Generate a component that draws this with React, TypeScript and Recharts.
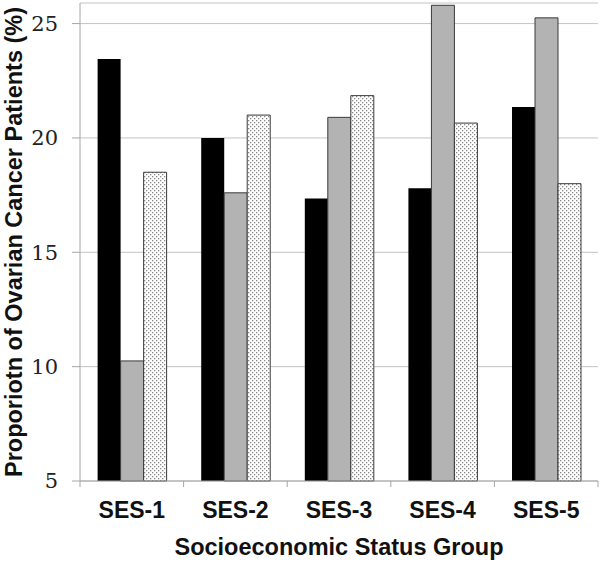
import React from 'react'
import { BarChart, Bar, XAxis, YAxis, CartesianGrid, Label } from 'recharts'

const categories = ['SES-1', 'SES-2', 'SES-3', 'SES-4', 'SES-5']
const blackSeries = [23.45, 20.0, 17.35, 17.8, 21.35]
const graySeries = [10.25, 17.6, 20.9, 25.8, 25.25]
const dottedSeries = [18.5, 21.0, 21.85, 20.65, 18.0]
const yTicks = [5, 10, 15, 20, 25]

const data = categories.map((name, i) => ({
  name,
  black: blackSeries[i],
  gray: graySeries[i],
  dotted: dottedSeries[i],
}))

const AXIS = '#a6a6a6'

// category ticks sit on the boundaries between groups, like the original
const XTick = (props: any) => {
  const { x, y, payload, index, visibleTicksCount } = props
  const half = payload?.offset ?? 0
  const top = y - 6
  return (
    <g>
      <line x1={x - half} y1={top} x2={x - half} y2={y} stroke={AXIS} />
      {index === visibleTicksCount - 1 && (
        <line x1={x + half} y1={top} x2={x + half} y2={y} stroke={AXIS} />
      )}
      <text
        x={x}
        y={y + 31}
        textAnchor="middle"
        fontFamily="Liberation Sans, Arial, sans-serif"
        fontWeight="bold"
        fontSize={23}
        fill="#111"
      >
        {payload.value}
      </text>
    </g>
  )
}

export default function App() {
  return (
    <div style={{ position: 'absolute', left: 0, top: 0, background: '#fff' }}>
      <BarChart
        width={600}
        height={562}
        data={data}
        margin={{ top: 3, right: 2, left: 0, bottom: 0 }}
        barCategoryGap="17%"
        barGap={0}
      >
        <defs>
          <pattern id="dots" width="4" height="4" patternUnits="userSpaceOnUse">
            <rect width="4" height="4" fill="#fff" />
            <rect x="0" y="0" width="1.3" height="1.3" fill="#8a8a8a" />
            <rect x="2" y="2" width="1.3" height="1.3" fill="#8a8a8a" />
          </pattern>
        </defs>
        <CartesianGrid vertical={false} stroke="#c4c4c4" />
        <XAxis
          dataKey="name"
          height={81}
          axisLine={{ stroke: AXIS }}
          tickLine={false}
          tickSize={6}
          tickMargin={0}
          tick={<XTick />}
          interval={0}
        >
          <Label
            value="Socioeconomic Status Group"
            position="center"
            dy={25}
            style={{
              fontFamily: 'Liberation Sans, Arial, sans-serif',
              fontWeight: 'bold',
              fontSize: 23.5,
              fill: '#111',
            }}
          />
        </XAxis>
        <YAxis
          width={80}
          domain={[5, 25.9]}
          ticks={yTicks}
          interval={0}
          axisLine={{ stroke: AXIS }}
          tickLine={{ stroke: AXIS }}
          tickSize={8}
          tickMargin={14}
          tick={{
            fontFamily: 'DejaVu Serif, serif',
            fontSize: 21,
            fill: '#222',
          }}
        >
          <Label
            value="Proporiotn of Ovarian Cancer Patients (%)"
            angle={-90}
            position="center"
            dx={-26}
            style={{
              fontFamily: 'Liberation Sans, Arial, sans-serif',
              fontWeight: 'bold',
              fontSize: 23.5,
              fill: '#111',
              textAnchor: 'middle',
            }}
          />
        </YAxis>
        <Bar dataKey="black" fill="#000" isAnimationActive={false} />
        <Bar dataKey="gray" fill="#b3b3b3" stroke="#3a3a3a" strokeWidth={1} isAnimationActive={false} />
        <Bar dataKey="dotted" fill="url(#dots)" stroke="#3a3a3a" strokeWidth={1} isAnimationActive={false} />
      </BarChart>
    </div>
  )
}
